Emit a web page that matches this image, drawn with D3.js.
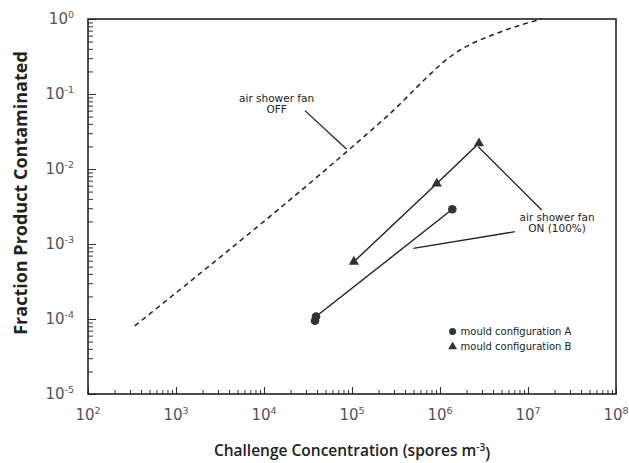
<!DOCTYPE html>
<meta charset="utf-8">
<style>
  body { margin: 0; background: #fff; }
  text { font-family: "DejaVu Sans", sans-serif; fill: #222; }
</style>
<body>
<div class="chart"></div>
<script src="https://d3js.org/d3.v7.min.js"></script>
<script>

// data
var xTicks = [1e2, 1e3, 1e4, 1e5, 1e6, 1e7, 1e8];
var yTicks = [1e-5, 1e-4, 1e-3, 1e-2, 1e-1, 1e0];

// air shower fan OFF (dashed)
var offX = [340, 2.48e5, 1.69e6, 4.4e6, 1.43e7];
var offY = [8.1e-5, 0.05, 0.386, 0.644, 1.0];

// mould configuration A (circles)
var aX = [3.8e4, 3.9e4, 1.38e6];
var aY = [9.5e-5, 1.08e-4, 2.9e-3];

// mould configuration B (triangles), drawn from high to low
var bX = [2.77e6, 9.2e5, 1.05e5];
var bY = [0.022, 6.4e-3, 5.8e-4];

var margin = {top: 19, right: 13, bottom: 69, left: 88},
    width = 629 - margin.left - margin.right,
    height = 463 - margin.top - margin.bottom;

var x = d3.scaleLog().domain([1e2, 1e8]).range([0, width]);
var y = d3.scaleLog().domain([1e-5, 1e0]).range([height, 0]);

var svg = d3.select(".chart").append("svg")
    .attr("width", 629)
    .attr("height", 463)
  .append("g")
    .attr("transform", "translate(" + margin.left + "," + margin.top + ")");

// minor ticks 2..9 in every decade
function minors(lo, hi) {
  var out = [];
  for (var e = lo; e < hi; e++) {
    for (var k = 2; k <= 9; k++) out.push(k * Math.pow(10, e));
  }
  return out;
}

// x axis ticks (inside)
svg.append("g")
    .attr("transform", "translate(0," + height + ")")
    .call(d3.axisBottom(x).tickValues(minors(2, 8)).tickSize(-4).tickFormat(""))
    .call(function(g) { g.select(".domain").remove(); });
svg.append("g")
    .attr("transform", "translate(0," + height + ")")
    .call(d3.axisBottom(x).tickValues(xTicks).tickSize(-7).tickFormat(""))
    .call(function(g) { g.select(".domain").remove(); });

// y axis ticks (inside)
svg.append("g")
    .call(d3.axisLeft(y).tickValues(minors(-5, 0)).tickSize(-5).tickFormat(""))
    .call(function(g) { g.select(".domain").remove(); });
svg.append("g")
    .call(d3.axisLeft(y).tickValues(yTicks).tickSize(-8).tickFormat(""))
    .call(function(g) { g.select(".domain").remove(); });

svg.selectAll(".tick line").attr("stroke", "#333").attr("stroke-width", 1);

// frame
svg.append("rect")
    .attr("width", width)
    .attr("height", height)
    .attr("fill", "none")
    .attr("stroke", "#222")
    .attr("stroke-width", 1.6);

// tick labels with superscript exponents
function powLabel(sel, v) {
  var e = Math.round(Math.log10(v));
  sel.append("tspan").text("10");
  sel.append("tspan").attr("dy", "-0.6em").attr("font-size", "9.5px").text(e);
}

svg.selectAll(".xlab")
    .data(xTicks)
  .enter().append("text")
    .attr("x", function(d) { return x(d); })
    .attr("y", height + 26)
    .attr("text-anchor", "middle")
    .attr("font-size", "15px")
    .style("fill", "#555")
    .each(function(d) { powLabel(d3.select(this), d); });

svg.selectAll(".ylab")
    .data(yTicks)
  .enter().append("text")
    .attr("x", -14)
    .attr("y", function(d) { return y(d) + 5; })
    .attr("text-anchor", "end")
    .attr("font-size", "15px")
    .style("fill", "#555")
    .each(function(d) { powLabel(d3.select(this), d); });

// axis titles
var xt = svg.append("text")
    .attr("x", width / 2)
    .attr("y", height + 62)
    .attr("text-anchor", "middle")
    .attr("font-size", "15.5px")
    .attr("font-weight", "600")
    .style("font-family", "'Open Sans', sans-serif");
xt.append("tspan").text("Challenge Concentration (spores m");
xt.append("tspan").attr("dy", "-0.5em").attr("font-size", "10px").text("-3");
xt.append("tspan").attr("dy", "0.5em").text(")");

svg.append("text")
    .attr("transform", "rotate(-90)")
    .attr("x", -(193 - margin.top))
    .attr("y", -61)
    .attr("text-anchor", "middle")
    .attr("font-size", "18px")
    .attr("font-weight", "bold")
    .style("font-family", "'Open Sans', sans-serif")
    .text("Fraction Product Contaminated");

var line = d3.line()
    .x(function(d) { return x(d[0]); })
    .y(function(d) { return y(d[1]); });

// dashed curve: air shower fan OFF
svg.append("path")
    .datum(d3.zip(offX, offY))
    .attr("d", line.curve(d3.curveMonotoneX))
    .attr("fill", "none")
    .attr("stroke", "#222")
    .attr("stroke-width", 1.5)
    .attr("stroke-dasharray", "5,4");
line.curve(d3.curveLinear);

// series A line and circles
var aPts = d3.zip(aX, aY);
svg.append("path")
    .datum([aPts[1], aPts[2]])
    .attr("d", line)
    .attr("fill", "none")
    .attr("stroke", "#222")
    .attr("stroke-width", 1.4);
svg.selectAll(".dotA")
    .data(aPts)
  .enter().append("circle")
    .attr("cx", function(d) { return x(d[0]); })
    .attr("cy", function(d) { return y(d[1]); })
    .attr("r", 4.3)
    .attr("fill", "#333");

// series B line and triangles
var bPts = d3.zip(bX, bY);
svg.append("path")
    .datum(bPts)
    .attr("d", line)
    .attr("fill", "none")
    .attr("stroke", "#222")
    .attr("stroke-width", 1.4);
var tri = d3.symbol().type(d3.symbolTriangle).size(45);
svg.selectAll(".triB")
    .data(bPts)
  .enter().append("path")
    .attr("d", tri)
    .attr("transform", function(d) { return "translate(" + x(d[0]) + "," + y(d[1]) + ")"; })
    .attr("fill", "#333");

// annotations
function leader(x1, y1, x2, y2) {
  svg.append("line")
      .attr("x1", x(x1)).attr("y1", y(y1))
      .attr("x2", x(x2)).attr("y2", y(y2))
      .attr("stroke", "#222")
      .attr("stroke-width", 1.3);
}
function note(xv, yv, lines) {
  var t = svg.append("text")
      .attr("x", x(xv))
      .attr("y", y(yv))
      .attr("text-anchor", "middle")
      .attr("font-size", "10.5px");
  lines.forEach(function(s, i) {
    t.append("tspan").attr("x", x(xv)).attr("dy", i ? "1.05em" : 0).text(s);
  });
}

note(1.39e4, 0.078, ["air shower fan", "OFF"]);
leader(2.92e4, 0.06, 8.7e4, 0.0183);

note(2.14e7, 2.03e-3, ["air shower fan", "ON (100%)"]);
leader(2.72e6, 0.0198, 1.43e7, 2.84e-3);
leader(4.97e5, 8.77e-4, 7.1e6, 1.46e-3);

// legend
var lg = svg.append("g");
lg.append("circle")
    .attr("cx", x(1.39e6)).attr("cy", y(6.8e-5))
    .attr("r", 3.5).attr("fill", "#333");
lg.append("text")
    .attr("x", x(1.39e6) + 8).attr("y", y(6.8e-5) + 3.5)
    .attr("font-size", "10px")
    .text("mould configuration A");
lg.append("path")
    .attr("d", d3.symbol().type(d3.symbolTriangle).size(35))
    .attr("transform", "translate(" + x(1.39e6) + "," + y(4.28e-5) + ")")
    .attr("fill", "#333");
lg.append("text")
    .attr("x", x(1.39e6) + 8).attr("y", y(4.28e-5) + 3.5)
    .attr("font-size", "10px")
    .text("mould configuration B");

</script>
</body>
